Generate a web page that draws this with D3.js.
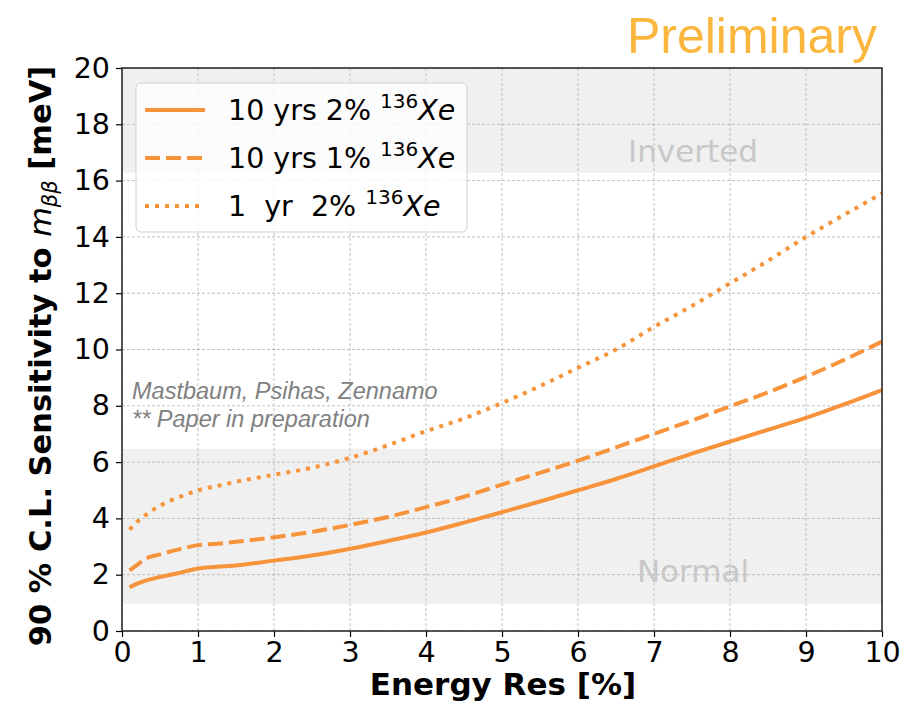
<!DOCTYPE html>
<html><head><meta charset="utf-8">
<script src="https://cdn.jsdelivr.net/npm/d3@7"></script>
<style>body{margin:0;background:#fff}svg{display:block}</style>
</head><body>
<svg id="c" width="910" height="709"></svg>
<script>
const energyRes = [0.1,0.2,0.3,0.5,0.75,1.0,1.25,1.5,2,2.5,3,3.5,4,4.5,5,5.5,6,6.5,7,7.5,8,8.5,9,9.5,10];
const tenYrs2 = [1.55,1.68,1.78,1.92,2.06,2.22,2.28,2.33,2.5,2.68,2.92,3.2,3.5,3.85,4.22,4.6,5.0,5.4,5.85,6.3,6.73,7.15,7.57,8.05,8.56];
const tenYrs1 = [2.15,2.35,2.55,2.72,2.9,3.05,3.1,3.17,3.33,3.52,3.77,4.05,4.4,4.77,5.2,5.62,6.05,6.52,7.0,7.48,7.98,8.48,9.03,9.63,10.28];
const oneYr2 = [3.6,3.88,4.1,4.45,4.75,5.0,5.15,5.3,5.55,5.8,6.15,6.6,7.1,7.55,8.1,8.7,9.35,10.0,10.8,11.55,12.35,13.15,14.0,14.78,15.55];
const xTicks = [0,1,2,3,4,5,6,7,8,9,10];
const yTicks = [0,2,4,6,8,10,12,14,16,18,20];
const bands = [{name:"Inverted", lo:16.28, hi:20, labelY:16.66},{name:"Normal", lo:0.97, hi:6.47, labelY:1.74}];
const seriesNames = ["10 yrs 2% ","10 yrs 1% ","1  yr  2% "];

const svg = d3.select("#c");
const L=122,R=882,T=68,B=631;
const x = d3.scaleLinear().domain([0,10]).range([L,R]);
const y = d3.scaleLinear().domain([0,20]).range([B,T]);
const orange = "#f7933b";

bands.forEach(b=>{
  svg.append("rect").attr("x",L).attr("width",R-L).attr("y",y(b.hi)).attr("height",y(b.lo)-y(b.hi)).attr("fill","#f0f0f0");
});
const g = svg.append("g");
xTicks.forEach(t=>g.append("line").attr("x1",x(t)).attr("x2",x(t)).attr("y1",T).attr("y2",B).attr("stroke","#b0b0b0").attr("stroke-width",0.8).attr("stroke-dasharray","3,2"));
yTicks.forEach(t=>g.append("line").attr("y1",y(t)).attr("y2",y(t)).attr("x1",L).attr("x2",R).attr("stroke","#b0b0b0").attr("stroke-width",0.8).attr("stroke-dasharray","3,2"));
bands.forEach(b=>{
  svg.append("text").attr("x",693).attr("y",y(b.labelY)).attr("text-anchor","middle")
   .attr("font-family","DejaVu Sans").attr("font-size",31).attr("fill","#c8c8c8").text(b.name);
});
svg.append("text").attr("x",132).attr("y",399).attr("font-family","Liberation Sans").attr("font-style","italic").attr("font-size",23.5).attr("fill","#808080").text("Mastbaum, Psihas, Zennamo");
svg.append("text").attr("x",132).attr("y",427).attr("font-family","Liberation Sans").attr("font-style","italic").attr("font-size",23.5).attr("fill","#808080").text("** Paper in preparation");

const line = d3.line().x((d,i)=>x(energyRes[i])).y(d=>y(d)).curve(d3.curveMonotoneX);
const styles = [null,"15,6","4,6"];
[tenYrs2,tenYrs1,oneYr2].forEach((s,k)=>{
  svg.append("path").attr("d",line(s)).attr("fill","none").attr("stroke",orange).attr("stroke-width",4)
   .attr("stroke-dasharray",styles[k]);
});

const xa = svg.append("g").attr("transform",`translate(0,${B})`).call(d3.axisBottom(x).tickValues(xTicks).tickSize(6).tickPadding(5));
const ya = svg.append("g").attr("transform",`translate(${L},0)`).call(d3.axisLeft(y).tickValues(yTicks).tickSize(6).tickPadding(6));
[xa,ya].forEach(a=>{a.select(".domain").remove();a.selectAll("text").attr("font-family","DejaVu Sans").attr("font-size",28.5).attr("fill","#000");a.selectAll("line").attr("stroke","#000").attr("stroke-width",1.2);});
svg.append("rect").attr("x",L).attr("y",T).attr("width",R-L).attr("height",B-T).attr("fill","none").attr("stroke","#222").attr("stroke-width",1.5);

const lg = svg.append("g");
lg.append("rect").attr("x",136).attr("y",83).attr("width",331).attr("height",149).attr("rx",5).attr("fill","rgba(255,255,255,0.8)").attr("stroke","#d0d0d0");
seriesNames.forEach((n,k)=>{
  const yy = 110+k*48;
  lg.append("line").attr("x1",145).attr("x2",205).attr("y1",yy).attr("y2",yy).attr("stroke",orange).attr("stroke-width",4).attr("stroke-dasharray",styles[k]);
  const t = lg.append("text").attr("x",228).attr("y",yy+10).attr("font-family","DejaVu Sans").attr("font-size",28.5).attr("fill","#000").attr("xml:space","preserve");
  t.append("tspan").text(n);
  t.append("tspan").attr("font-size",20).attr("dy",-12).text("136");
  t.append("tspan").attr("font-style","italic").attr("dy",12).text("Xe");
});

svg.append("text").attr("x",877).attr("y",53).attr("text-anchor","end").attr("font-family","Liberation Sans").attr("font-size",50).attr("fill","#fbb73d").text("Preliminary");
svg.append("text").attr("x",503).attr("y",695).attr("text-anchor","middle").attr("font-family","DejaVu Sans").attr("font-weight","bold").attr("font-size",31).text("Energy Res [%]");
const yl = svg.append("text").attr("transform","translate(51,356) rotate(-90)").attr("text-anchor","middle").attr("font-family","DejaVu Sans").attr("font-size",30.5).attr("font-weight","bold").attr("xml:space","preserve");
yl.append("tspan").text("90 % C.L. Sensitivity to ");
yl.append("tspan").attr("font-style","italic").attr("font-weight","normal").text("m");
yl.append("tspan").attr("font-style","italic").attr("font-weight","normal").attr("font-size",21).attr("dy",6).text("ββ");
yl.append("tspan").attr("dy",-6).text(" [meV]");
</script>
</body></html>
